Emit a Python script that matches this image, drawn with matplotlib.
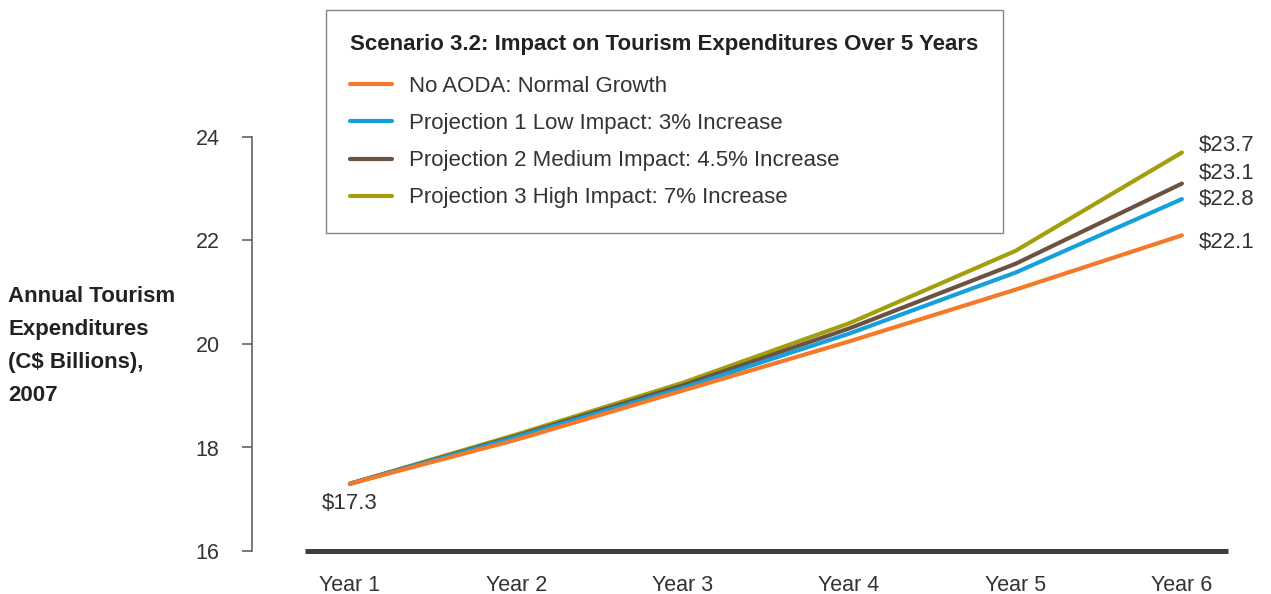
import numpy as np
import matplotlib.pyplot as plt

plt.rcParams['font.family'] = ['Liberation Sans', 'DejaVu Sans']

#data
years = ['Year 1', 'Year 2', 'Year 3', 'Year 4', 'Year 5', 'Year 6']
normal = [17.3, 18.15, 19.1, 20.05, 21.05, 22.1]
low = [17.3, 18.2, 19.15, 20.2, 21.38, 22.8]
medium = [17.3, 18.22, 19.2, 20.3, 21.55, 23.1]
high = [17.3, 18.25, 19.25, 20.4, 21.8, 23.7]

series_names = ['No AODA: Normal Growth',
                'Projection 1 Low Impact: 3% Increase',
                'Projection 2 Medium Impact: 4.5% Increase',
                'Projection 3 High Impact: 7% Increase']
series_values = [normal, low, medium, high]
end_labels = ['$22.1', '$22.8', '$23.1', '$23.7']
start_label = '$17.3'

colors = ['#f47a2a', '#16a0db', '#6b5242', '#a39e0c']
#vertical nudge of end labels in points
end_offsets = [-5, 0, 7, 5]

fig = plt.figure(figsize=(12.71, 5.94), dpi=100)
ax = fig.add_axes([305/1271, 43/594, 923/1271, 414/594])

x = np.arange(1, len(years)+1)

#draw in reverse so orange is on top
handles = [None]*4
for k in [3, 2, 1, 0]:
    line, = ax.plot(x, series_values[k], color=colors[k], lw=3,
                    solid_capstyle='round', label=series_names[k], zorder=3+(3-k))
    handles[k] = line

ax.set_xlim(0.73, 6.277)
ax.set_ylim(16, 24)
ax.set_yticks([16, 18, 20, 22, 24])
ax.set_xticks(x)
ax.set_xticklabels(years)

for s in ['top', 'right']:
    ax.spines[s].set_visible(False)
ax.spines['left'].set_position(('outward', 38))
ax.spines['left'].set_color('#555555')
ax.spines['left'].set_linewidth(1.1)
ax.spines['bottom'].set_color('#3d3d3d')
ax.spines['bottom'].set_linewidth(3.6)
ax.spines['bottom'].set_capstyle('butt')

ax.tick_params(axis='y', length=7.5, width=1.1, color='#555555', pad=16,
               labelsize=15.5, labelcolor='#333333')
ax.tick_params(axis='x', length=0, pad=17, labelsize=15.5, labelcolor='#333333')

#end value labels
for k in range(4):
    ax.annotate(end_labels[k].replace('$', r'\$'), (x[-1], series_values[k][-1]),
                xytext=(12, end_offsets[k]), textcoords='offset points',
                ha='left', va='center', fontsize=16, color='#333333')

ax.annotate(start_label.replace('$', r'\$'), (x[0], normal[0]),
            xytext=(0, -14), textcoords='offset points',
            ha='center', va='center', fontsize=16, color='#333333')

#y label
fig.text(8/1271, 1-346/594, 'Annual Tourism\nExpenditures\n(C$ Billions),\n2007',
         ha='left', va='center', fontsize=16, fontweight='bold',
         color='#222222', linespacing=1.75)

leg = fig.legend(handles=handles, labels=series_names,
                 loc='upper left', bbox_to_anchor=(326/1271, 1-10/594),
                 title='Scenario 3.2: Impact on Tourism Expenditures Over 5 Years',
                 title_fontproperties={'weight': 'bold', 'size': 16},
                 fontsize=16, frameon=True, fancybox=False,
                 borderpad=1.1, labelspacing=0.73, handlelength=1.85,
                 handletextpad=0.77, borderaxespad=0, alignment='left')
#a bit more room under the title
leg._legend_box.sep = 0.73*16+3
leg.get_frame().set_edgecolor('#666666')
leg.get_frame().set_linewidth(1.0)
for t in leg.get_texts():
    t.set_color('#333333')
leg.get_title().set_color('#222222')

fig.savefig('out.png', dpi=100)
